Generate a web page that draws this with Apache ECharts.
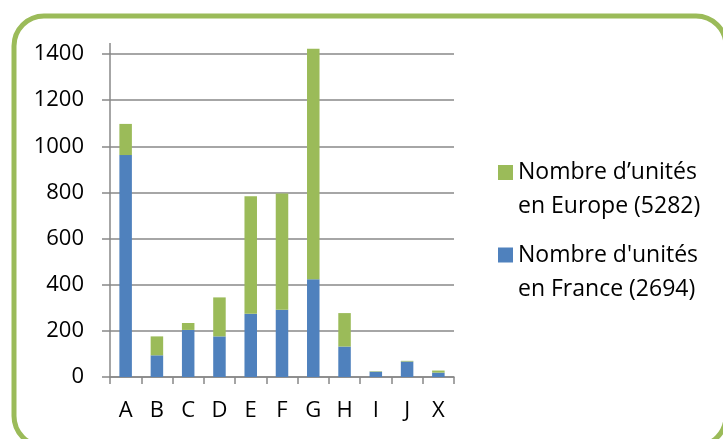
<!DOCTYPE html>
<html>
<head>
<meta charset="utf-8">
<script src="https://cdn.jsdelivr.net/npm/echarts@6/dist/echarts.min.js"></script>
<style>
  html, body { margin: 0; padding: 0; background: #fff; }
  #chart { width: 723px; height: 439px; }
</style>
</head>
<body>
<div id="chart"></div>
<script>
// categories
var categories = ['A', 'B', 'C', 'D', 'E', 'F', 'G', 'H', 'I', 'J', 'X'];
// units in France (blue, bottom of stack)
var franceUnits = [962, 94, 204, 176, 274, 292, 424, 132, 23, 67, 19];
// units in Europe (top of each stack)
var europeUnits = [1097, 176, 234, 345, 783, 795, 1423, 277, 25, 70, 28];
var yTicks = [0, 200, 400, 600, 800, 1000, 1200, 1400];

var nameEurope = 'Nombre d\u2019unités\nen Europe (5282)';
var nameFrance = "Nombre d'unités\nen France (2694)";

// the green part is what Europe adds on top of France
var europeExtra = europeUnits.map(function (v, i) { return v - franceUnits[i]; });

var chart = echarts.init(document.getElementById('chart'));
var font = 'Open Sans';
var gray = '#888';

function legendFor(name, top) {
  return {
    data: [name],
    left: 498,
    top: top,
    padding: 0,
    icon: 'rect',
    itemWidth: 15,
    itemHeight: 15,
    selectedMode: false,
    // empty first line so the square sits beside the first text line
    formatter: function (n) { return ' \n' + n; },
    textStyle: {
      fontFamily: font,
      fontSize: 23,
      color: '#000',
      lineHeight: 34
    }
  };
}

var option = {
  backgroundColor: '#fff',
  animation: false,
  graphic: [{
    type: 'rect',
    shape: { x: 14, y: 16, width: 712, height: 430, r: 30 },
    style: { fill: 'none', stroke: '#9bbb59', lineWidth: 5 },
    z: 0
  }, {
    type: 'line',
    shape: { x1: 110, y1: 43, x2: 110, y2: 54 },
    style: { stroke: gray, lineWidth: 1.5 },
    z: 1
  }],
  legend: [legendFor(nameEurope, 121.5), legendFor(nameFrance, 204)],
  grid: {
    left: 110,
    width: 344,
    top: 54,
    bottom: 62,
    containLabel: false
  },
  xAxis: {
    type: 'category',
    data: categories,
    axisLine: { lineStyle: { color: gray, width: 1.5 } },
    axisTick: { show: true, length: 7, lineStyle: { color: gray, width: 1.5 } },
    axisLabel: { fontFamily: font, fontSize: 22, color: '#000', margin: 23 }
  },
  yAxis: {
    type: 'value',
    min: yTicks[0],
    max: yTicks[yTicks.length - 1],
    interval: 200,
    axisLine: { show: true, lineStyle: { color: gray, width: 1.5 } },
    axisTick: { show: true, length: 8, lineStyle: { color: gray, width: 1.5 } },
    splitLine: { show: true, lineStyle: { color: gray, width: 1.5 } },
    axisLabel: {
      fontFamily: font, fontSize: 22, color: '#000', margin: 26,
      formatter: function (v) { return String(v); }
    }
  },
  series: [{
    name: nameFrance,
    type: 'bar',
    stack: 'units',
    barWidth: '40%',
    clip: false,
    itemStyle: { color: '#4f81bd' },
    data: franceUnits
  }, {
    name: nameEurope,
    type: 'bar',
    stack: 'units',
    barWidth: '40%',
    clip: false,
    itemStyle: { color: '#9bbb59' },
    data: europeExtra
  }]
};

chart.setOption(option);
</script>
</body>
</html>
